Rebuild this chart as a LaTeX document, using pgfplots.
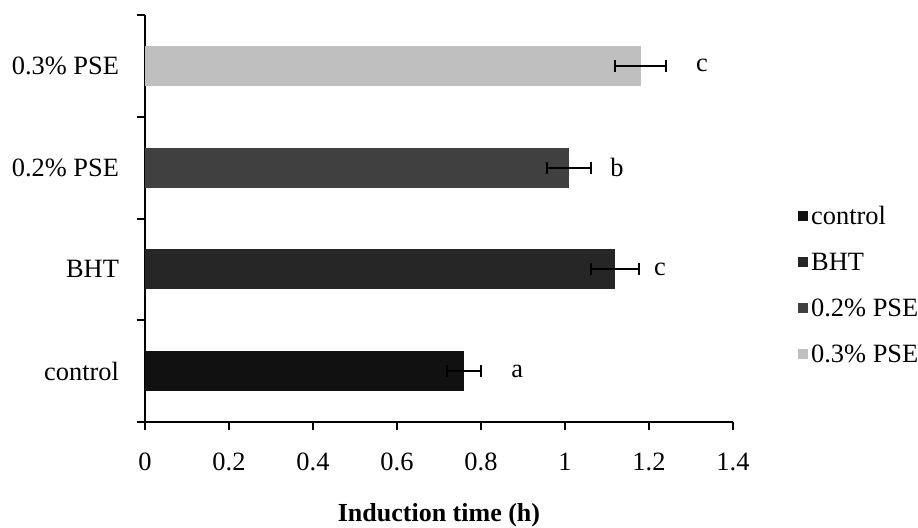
\documentclass[border=0pt]{standalone}
\usepackage{fontspec}
\setmainfont{Liberation Serif}
\usepackage{pgfplots}
\pgfplotsset{compat=1.18}
\definecolor{cctrl}{HTML}{111111}
\definecolor{cbht}{HTML}{262626}
\definecolor{cpsetwo}{HTML}{404040}
\definecolor{cpsethree}{HTML}{BFBFBF}
\begin{document}
\begin{tikzpicture}
\path[use as bounding box] (-72.5pt,-52.5pt) rectangle (386.5pt,211pt);
\begin{axis}[
  at={(0,0)}, anchor=south west,
  scale only axis, width=294pt, height=203.5pt,
  xmin=0, xmax=1.4, ymin=-0.5, ymax=3.5,
  axis lines=left, axis line style={line width=1pt, -},
  xtick={0,0.2,0.4,0.6,0.8,1,1.2,1.4},
  ytick={-0.5,0.5,1.5,2.5,3.5}, yticklabels={},
  extra y ticks={0,1,2,3},
  extra y tick labels={control,BHT,0.2\% PSE,0.3\% PSE},
  extra y tick style={major tick length=0pt, yticklabel style={xshift=-9.5pt}},
  tick align=outside, major tick length=4pt,
  tick style={black, line width=1pt},
  /pgf/number format/assume math mode=true,
  tick label style={font=\fontsize{13.2}{15}\selectfont},
  xticklabel style={yshift=-8pt},
  xlabel={\textbf{Induction time (h)}},
  xlabel style={font=\fontsize{13}{15}\selectfont, at={(axis description cs:0.5,0)}, anchor=center, yshift=-46.5pt},
  xbar, bar width=20pt, bar shift=0pt,
  error bars/error bar style={black, line width=1pt},
  legend style={draw=none, at={(axis description cs:1.1,0.545)}, anchor=north west,
    font=\fontsize{13.2}{15}\selectfont, row sep=9pt,
    nodes={text height=9pt, text depth=3pt, inner ysep=1pt, inner xsep=1.5pt}, cells={anchor=west}},
  legend image code/.code={\fill[#1] (-2.5pt,-1pt) rectangle (2.5pt,4pt);},
]
\addplot[fill=cctrl, draw=none, error bars/.cd, x dir=both, x explicit, error mark=|, error mark options={black, line width=1pt, mark size=3pt}] coordinates {(0.76,0) +- (0.04,0)};
\addplot[fill=cbht, draw=none, error bars/.cd, x dir=both, x explicit, error mark=|, error mark options={black, line width=1pt, mark size=3pt}] coordinates {(1.12,1) +- (0.057,0)};
\addplot[fill=cpsetwo, draw=none, error bars/.cd, x dir=both, x explicit, error mark=|, error mark options={black, line width=1pt, mark size=3pt}] coordinates {(1.01,2) +- (0.052,0)};
\addplot[fill=cpsethree, draw=none, error bars/.cd, x dir=both, x explicit, error mark=|, error mark options={black, line width=1pt, mark size=3pt}] coordinates {(1.18,3) +- (0.06,0)};
\legend{control,BHT,0.2\% PSE,0.3\% PSE}
\node[font=\fontsize{13.2}{15}\selectfont] at (axis cs:0.886,0) {a};
\node[font=\fontsize{13.2}{15}\selectfont] at (axis cs:1.226,1) {c};
\node[font=\fontsize{13.2}{15}\selectfont] at (axis cs:1.124,2) {b};
\node[font=\fontsize{13.2}{15}\selectfont] at (axis cs:1.326,3) {c};
\end{axis}
\end{tikzpicture}
\end{document}
